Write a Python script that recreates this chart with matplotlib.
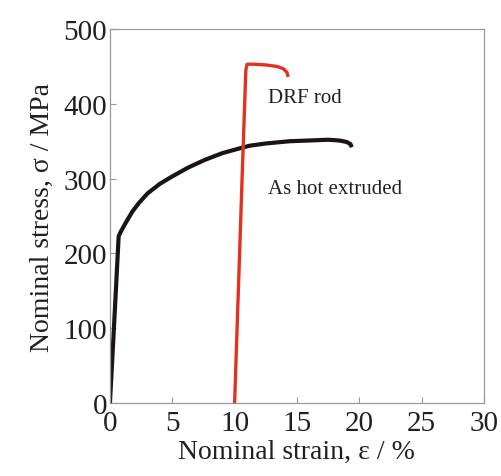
import matplotlib.pyplot as plt

plt.rcParams['font.family'] = ['Liberation Serif', 'DejaVu Serif']

# as hot extruded
strain_hot = [0.0, 0.35, 0.7, 0.9, 1.3, 1.8, 2.3, 3.0, 4.0, 5.0, 6.3, 7.6,
              9.0, 10.3, 11.2, 12.5, 14.4, 16.0, 17.5, 18.4, 19.0, 19.3, 19.4]
stress_hot = [0, 110, 223, 230, 242, 256, 267, 280, 293, 303, 315, 325,
              334, 340, 344, 347, 350, 351, 352, 351, 349, 346, 342]

# DRF rod
strain_drf = [10.0, 10.3, 10.6, 10.9, 11.0, 11.5, 12.5, 13.4, 13.9, 14.2, 14.3]
stress_drf = [0, 150, 300, 445, 453, 453, 452, 450, 447, 442, 436]

fig = plt.figure(figsize=(5.02, 4.77), dpi=100)
ax = fig.add_axes([0.219, 0.153, 0.745, 0.784])

ax.plot(strain_hot, stress_hot, color='#1a1414', lw=3.0, solid_capstyle='butt',
        solid_joinstyle='round')
ax.plot(strain_drf, stress_drf, color='#e2321f', lw=2.4, solid_capstyle='butt')

ax.text(12.7, 408, 'DRF rod', fontsize=15, va='center', color='#231f20')
ax.text(12.7, 287, 'As hot extruded', fontsize=15, va='center', color='#231f20')

ax.set_xlim(0, 30)
ax.set_ylim(0, 500)
ax.set_xticks(range(0, 31, 5))
ax.set_yticks(range(0, 501, 100))
ax.tick_params(direction='in', length=4, width=0.8, color='#999999',
               labelsize=21, labelcolor='#231f20', pad=2)
ax.tick_params(axis='x', pad=5)
for s in ax.spines.values():
    s.set_color('#999999')
    s.set_linewidth(0.9)

ax.set_xlabel('Nominal strain, ε / %', fontsize=20, color='#231f20', labelpad=2)
ax.set_ylabel('Nominal stress, σ / MPa', fontsize=20, color='#231f20', labelpad=6)

fig.savefig('out.png', dpi=100)
